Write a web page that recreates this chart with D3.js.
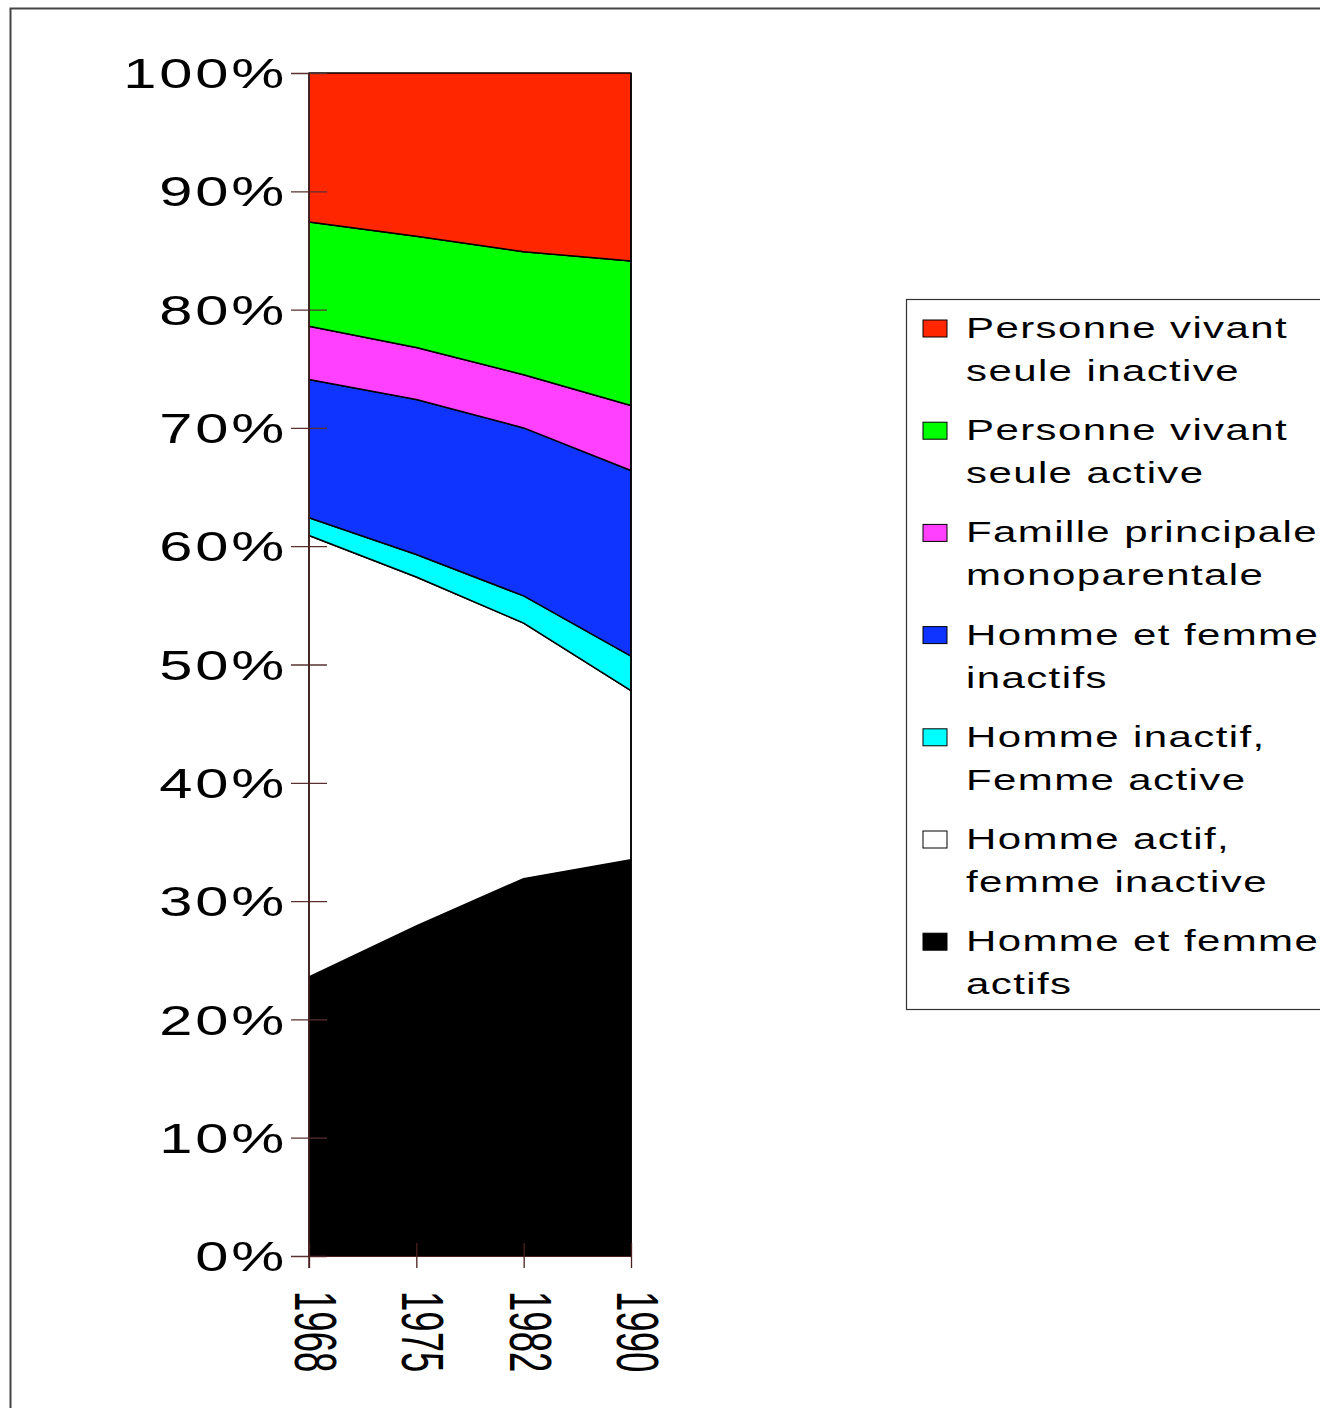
<!DOCTYPE html>
<html>
<head>
<meta charset="utf-8">
<script src="https://cdn.jsdelivr.net/npm/d3@7"></script>
<style>
  html, body { margin: 0; padding: 0; background: #fff; }
  svg { display: block; }
  text { font-family: "Liberation Sans", Arial, sans-serif; fill: #000; }
</style>
</head>
<body>
<svg id="chart" width="1320" height="1408"></svg>
<script>
// ---- data (percent shares per census year) ----
const years = ["1968", "1975", "1982", "1990"];
const seriesNames = [
  "Homme et femme actifs",
  "Homme actif, femme inactive",
  "Homme inactif, Femme active",
  "Homme et femme inactifs",
  "Famille principale monoparentale",
  "Personne vivant seule active",
  "Personne vivant seule inactive"
];
const hommeFemmeActifs      = [23.6, 27.9, 31.9, 33.5];
const hommeActifFemmeInact  = [37.3, 29.5, 21.6, 14.3];
const hommeInactFemmeActive = [1.5, 1.9, 2.3, 2.9];
const hommeFemmeInactifs    = [11.7, 13.1, 14.2, 15.7];
const monoparentale         = [4.5, 4.4, 4.5, 5.5];
const seuleActive           = [8.8, 9.4, 10.4, 12.2];
const seuleInactive         = [12.6, 13.8, 15.1, 15.9];
const yTicks = [0, 0.1, 0.2, 0.3, 0.4, 0.5, 0.6, 0.7, 0.8, 0.9, 1.0];

// legend labels, two lines each (top to bottom order)
const legendLines = [
  ["Personne vivant", "seule inactive"],
  ["Personne vivant", "seule active"],
  ["Famille principale", "monoparentale"],
  ["Homme et femme", "inactifs"],
  ["Homme inactif,", "Femme active"],
  ["Homme actif,", "femme inactive"],
  ["Homme et femme", "actifs"]
];

const colors = ["#000000", "#ffffff", "#00ffff", "#1034ff", "#ff40ff", "#00ff00", "#ff2600"];

// ---- build table ----
const seriesValues = [hommeFemmeActifs, hommeActifFemmeInact, hommeInactFemmeActive,
  hommeFemmeInactifs, monoparentale, seuleActive, seuleInactive];
const table = years.map((y, i) => {
  const row = { year: y };
  seriesNames.forEach((n, k) => { row[n] = seriesValues[k][i]; });
  return row;
});
const stacked = d3.stack().keys(seriesNames).offset(d3.stackOffsetExpand)(table);

const svg = d3.select("#chart");

// outer frame
svg.append("rect").attr("x", 10.5).attr("y", 8.5).attr("width", 1400).attr("height", 1500)
  .attr("fill", "none").attr("stroke", "#444").attr("stroke-width", 2);

const x = d3.scalePoint().domain(years).range([309, 631]);
const y = d3.scaleLinear().domain([0, 1]).range([1256, 73]);

// areas
const area = d3.area().x(d => x(d.data.year)).y0(d => y(d[0])).y1(d => y(d[1]));
svg.append("g").selectAll("path").data(stacked).join("path")
  .attr("d", area)
  .attr("fill", (d, i) => colors[i])
  .attr("stroke", "#000")
  .attr("stroke-width", 1.5)
  .attr("stroke-linejoin", "round");

// right plot edge
svg.append("line").attr("x1", x("1990")).attr("x2", x("1990")).attr("y1", y(1)).attr("y2", y(0))
  .attr("stroke", "#000").attr("stroke-width", 1.5);

// y axis
const yAxis = d3.axisLeft(y).tickValues(yTicks).tickFormat(d3.format(".0%")).tickSize(18).tickPadding(0);
const gy = svg.append("g").attr("transform", `translate(${x("1968")},0)`).call(yAxis);
gy.select(".domain").remove();
gy.selectAll(".tick line").attr("x1", -18).attr("x2", 18).attr("stroke", "#5a3030").attr("stroke-width", 1.3);
gy.selectAll(".tick text")
  .attr("x", null).attr("dy", null)
  .attr("text-anchor", "end")
  .attr("dominant-baseline", "central")
  .attr("transform", "translate(-22,0) scale(1.42,1)")
  .style("font-family", "'Liberation Sans', Arial, sans-serif")
  .style("font-size", "42px")
  .style("letter-spacing", "2px")
  .attr("fill", "#000");
svg.append("line").attr("x1", x("1968")).attr("x2", x("1968")).attr("y1", y(1)).attr("y2", y(0) + 12)
  .attr("stroke", "#4a2020").attr("stroke-width", 1.5);

// x axis ticks and labels
const xAxis = d3.axisBottom(x).tickSize(0).tickFormat("");
const gx = svg.append("g").attr("transform", `translate(0,${y(0)})`).call(xAxis);
gx.select(".domain").attr("stroke", "#4a2020").attr("stroke-width", 1.2);
gx.selectAll(".tick").append("line").attr("y1", -13).attr("y2", 12)
  .attr("stroke", "#4a2020").attr("stroke-width", 1.3);
svg.append("g").selectAll("text").data(years).join("text")
  .attr("transform", d => `translate(${x(d) - 14},1291) rotate(90) scale(0.61,1)`)
  .attr("text-anchor", "start")
  .style("font-size", "60px")
  .text(d => d);

// legend
const lg = svg.append("g");
lg.append("rect").attr("x", 906.5).attr("y", 299.5).attr("width", 500).attr("height", 710)
  .attr("fill", "#fff").attr("stroke", "#333").attr("stroke-width", 1.2);
const legendColors = colors.slice().reverse();
const entry = lg.selectAll("g.entry").data(legendLines).join("g")
  .attr("class", "entry")
  .attr("transform", (d, i) => `translate(0,${338 + i * 102.2})`);
entry.append("rect").attr("x", 923).attr("y", -18).attr("width", 24).attr("height", 17)
  .attr("fill", (d, i) => legendColors[i]).attr("stroke", "#000").attr("stroke-width", 1);
entry.each(function(lines) {
  const g = d3.select(this);
  lines.forEach((t, j) => {
    g.append("text")
      .attr("transform", `translate(966,${j * 43}) scale(1.4,1)`)
      .style("font-size", "30px")
      .style("letter-spacing", "1px")
      .text(t);
  });
});
</script>
</body>
</html>
